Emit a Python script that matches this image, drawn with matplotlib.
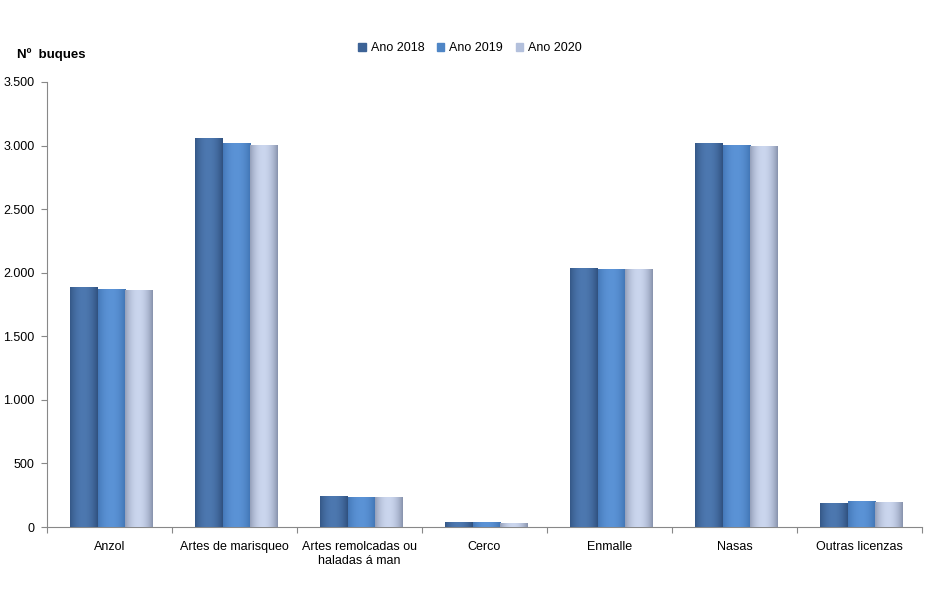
import matplotlib.pyplot as plt
import numpy as np
from matplotlib.patches import Patch
from matplotlib.ticker import FuncFormatter

categories = ['Anzol', 'Artes de marisqueo', 'Artes remolcadas ou\nhaladas á man',
              'Cerco', 'Enmalle', 'Nasas', 'Outras licenzas']
years = ['Ano 2018', 'Ano 2019', 'Ano 2020']
v2018 = [1885, 3060, 242, 38, 2040, 3018, 191]
v2019 = [1872, 3022, 236, 36, 2030, 3004, 204]
v2020 = [1863, 3005, 234, 35, 2027, 2996, 197]

# edge colour, centre colour of the cylinder-like shading
shades = [('#1e3960', '#4d78b0'),
          ('#2f5f9c', '#5b93d6'),
          ('#5f6a85', '#cbd6ee')]
legend_colors = ['#3d6396', '#4f86c6', '#b3c0dc']

plt.rcParams['font.family'] = ['Liberation Sans', 'DejaVu Sans']

fig = plt.figure(figsize=(9.39, 5.94), dpi=100)
ax = fig.add_axes([47 / 939, 67 / 594, 875 / 939, 445 / 594])

x = np.arange(len(categories)) + 0.5
w = 0.222
series = [v2018, v2019, v2020]


def gradient(c_edge, c_mid):
    e = np.array(plt.matplotlib.colors.to_rgb(c_edge))
    m = np.array(plt.matplotlib.colors.to_rgb(c_mid))
    t = np.linspace(0, 1, 64)
    prof = np.clip(np.sin(np.pi * (0.12 + 0.8 * t)), 0, 1) ** 0.7
    img = e[None, :] + (m - e)[None, :] * prof[:, None]
    return img[None, :, :]


for i, vals in enumerate(series):
    bars = ax.bar(x + (i - 1) * w + 0.015, vals, w, color=legend_colors[i], linewidth=0)
    img = gradient(*shades[i])
    for b in bars:
        x0, y0 = b.get_x(), b.get_y()
        im = ax.imshow(img, extent=[x0, x0 + b.get_width(), y0, y0 + b.get_height()],
                       aspect='auto', zorder=3, interpolation='bilinear')
        im.set_clip_path(b)

ax.set_xlim(0, len(categories))
ax.set_ylim(0, 3500)
ax.set_yticks(np.arange(0, 3501, 500))
ax.yaxis.set_major_formatter(FuncFormatter(lambda v, p: f'{int(v):,}'.replace(',', '.')))
ax.set_xticks(np.arange(len(categories) + 1))
ax.set_xticklabels([])
ax.set_xticks(x, minor=True)
ax.set_xticklabels(categories, minor=True, fontsize=9)
ax.tick_params(axis='x', which='minor', length=0, pad=10)
ax.tick_params(axis='x', which='major', length=4, color='#888888')
ax.tick_params(axis='y', length=4, color='#888888', labelsize=9, pad=5)
for s in ['top', 'right']:
    ax.spines[s].set_visible(False)
for s in ['left', 'bottom']:
    ax.spines[s].set_color('#888888')

fig.text(17 / 939, 1 - 55 / 594, 'Nº  buques', fontsize=9.5, fontweight='bold', va='center')
handles = [Patch(color=c, label=l) for c, l in zip(legend_colors, years)]
fig.legend(handles=handles, loc='center', bbox_to_anchor=(470 / 939, 1 - 48 / 594),
           ncol=3, frameon=False, fontsize=9, handlelength=0.6, handleheight=0.6,
           handletextpad=0.4, columnspacing=1.0)

fig.savefig('out.png', dpi=100)
